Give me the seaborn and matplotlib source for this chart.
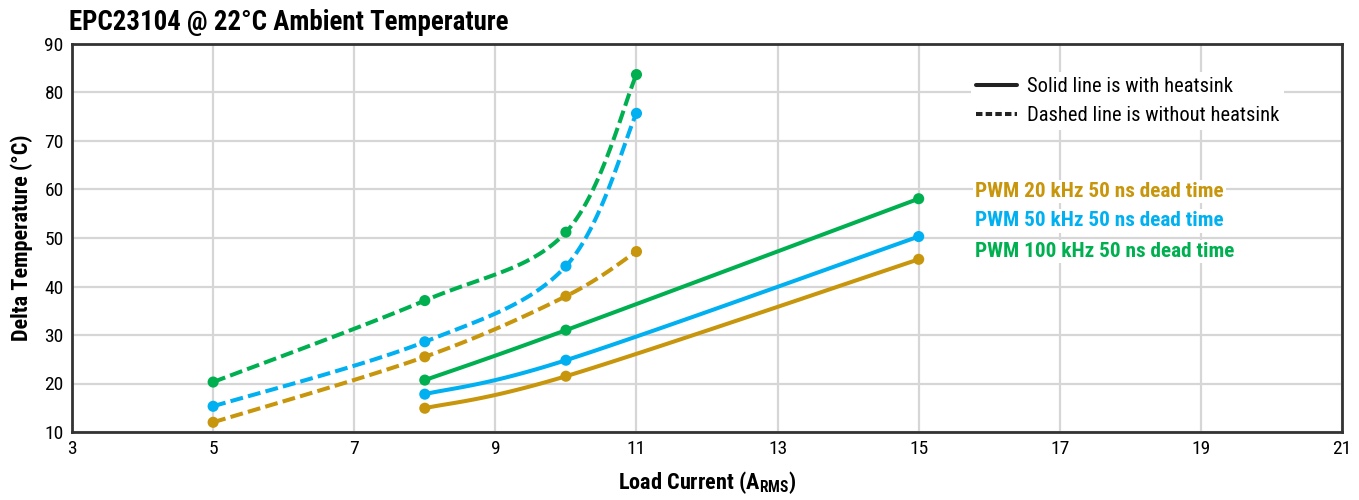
import numpy as np
import pandas as pd
import matplotlib
matplotlib.use("Agg")
import matplotlib.pyplot as plt
import matplotlib.font_manager as fm
import seaborn as sns
from matplotlib.lines import Line2D

# ---- data ----
x_dashed = [5, 8, 10, 11]
y_dashed_20k = [12.0, 25.5, 38.0, 47.2]
y_dashed_50k = [15.3, 28.6, 44.2, 75.7]
y_dashed_100k = [20.3, 37.1, 51.2, 83.7]

x_solid = [8, 10, 15]
y_solid_20k = [14.9, 21.5, 45.6]
y_solid_50k = [17.8, 24.8, 50.3]
y_solid_100k = [20.7, 31.0, 58.1]

series_names = ["PWM 20 kHz 50 ns dead time",
                "PWM 50 kHz 50 ns dead time",
                "PWM 100 kHz 50 ns dead time"]
colors = ["#C8960C", "#00B0F0", "#00B050"]
x_ticks = [3, 5, 7, 9, 11, 13, 15, 17, 19, 21]
y_ticks = [10, 20, 30, 40, 50, 60, 70, 80, 90]

sns.set_theme(style="white")

# pick a narrow font with a bold face if one is installed
ttf = fm.fontManager.ttflist


def wnum(w):
    if isinstance(w, (int, float)):
        return w
    return fm.weight_dict.get(str(w), 400)


narrow = {}
for f in ttf:
    if "Narrow" in f.name or "Condensed" in f.name or f.stretch in ("condensed", "semi-condensed"):
        key = (f.name, f.stretch if f.name == "DejaVu Sans" else "normal")
        narrow.setdefault(key, set()).add(wnum(f.weight))
with_bold = [k for k, ws in narrow.items() if max(ws) >= 700]
pref = ["Liberation Sans Narrow", "Roboto Condensed", "Open Sans Condensed"]
family, stretch, scale = "DejaVu Sans", "normal", 0.8
chosen = None
for p in pref:
    for k in with_bold:
        if k[0] == p:
            chosen = k; break
    if chosen:
        break
if chosen is None and with_bold:
    chosen = sorted(with_bold)[0]
if chosen is not None:
    family, stretch = chosen
    scale = 1.0 if family != "DejaVu Sans" else 0.9

plt.rcParams['font.family'] = [family, "DejaVu Sans"]
plt.rcParams['font.stretch'] = stretch
plt.rcParams['text.color'] = "black"
plt.rcParams['axes.labelcolor'] = "black"
plt.rcParams['mathtext.fontset'] = "custom"
plt.rcParams['mathtext.rm'] = family
plt.rcParams['mathtext.bf'] = family + ":bold"
FS = lambda v: v * scale

rows = []
for name, yd, ys in zip(series_names,
                        [y_dashed_20k, y_dashed_50k, y_dashed_100k],
                        [y_solid_20k, y_solid_50k, y_solid_100k]):
    for xv, yv in zip(x_dashed, yd):
        rows.append(dict(x=xv, y=yv, series=name, hs="without"))
    for xv, yv in zip(x_solid, ys):
        rows.append(dict(x=xv, y=yv, series=name, hs="with"))
df = pd.DataFrame(rows)

fig = plt.figure(figsize=(13.59, 5.0), dpi=100)
ax = fig.add_axes([0.053, 0.136, 0.9345, 0.776])
ax.set_xlim(3, 21)
ax.set_ylim(10, 90)


def smooth(ax, x, y, n=40):
    """Excel-style smoothed line (Catmull-Rom Bezier in screen space)."""
    P = ax.transData.transform(np.column_stack([x, y]))
    Pe = np.vstack([P[0], P, P[-1]])
    t = np.linspace(0, 1, n)[:, None]
    out = []
    for i in range(len(P) - 1):
        p0, p1, p2, p3 = Pe[i], Pe[i + 1], Pe[i + 2], Pe[i + 3]
        c1 = p1 + (p2 - p0) / 6.0
        c2 = p2 - (p3 - p1) / 6.0
        seg = ((1 - t) ** 3) * p1 + 3 * ((1 - t) ** 2) * t * c1 \
            + 3 * (1 - t) * t ** 2 * c2 + t ** 3 * p2
        out.append(seg if i == 0 else seg[1:])
    S = ax.transData.inverted().transform(np.vstack(out))
    return S[:, 0], S[:, 1]


for name, col in zip(series_names, colors):
    for hs, ls in [("without", (0, (3.2, 1.3))), ("with", "-")]:
        sub = df[(df.series == name) & (df.hs == hs)].sort_values("x")
        xs, ys = smooth(ax, sub.x.values, sub.y.values)
        ax.plot(xs, ys, color=col, lw=2.9, linestyle=ls, zorder=3,
                solid_capstyle="butt", dash_capstyle="butt")
sns.scatterplot(data=df, x="x", y="y", hue="series", palette=colors,
                hue_order=series_names, s=64, edgecolor="none",
                legend=False, ax=ax, zorder=4)

ax.set_xlim(3, 21)
ax.set_ylim(10, 90)
ax.set_xticks(x_ticks)
ax.set_yticks(y_ticks)
ax.grid(True, color="#d6d6d6", lw=1.6)
ax.set_axisbelow(True)
for s in ax.spines.values():
    s.set_color("#333333"); s.set_linewidth(2.0)
ax.tick_params(axis="both", length=0, labelsize=FS(14), pad=6, colors="black")
ax.set_xlabel("Load Current (A$_{\\mathbf{RMS}}$)", fontsize=FS(16),
              fontweight="bold", labelpad=8)
ax.set_ylabel("Delta Temperature (°C)", fontsize=FS(16), fontweight="bold",
              labelpad=8)
fig.text(0.051, 0.929, "EPC23104 @ 22°C Ambient Temperature", fontsize=FS(19.4),
         fontweight="bold", ha="left", va="bottom")

# legend for line styles
style_handles = [Line2D([], [], color="#222222", lw=2.9, ls="-"),
                 Line2D([], [], color="#222222", lw=2.9, ls=(0, (1.6, 0.8)))]
leg1 = ax.legend(style_handles,
                 ["Solid line is with heatsink", "Dashed line is without heatsink"],
                 loc="upper left", bbox_to_anchor=(0.708, 0.927), frameon=True,
                 framealpha=1, edgecolor="none", facecolor="white",
                 fontsize=FS(14.8), handlelength=2.0, handletextpad=0.45,
                 labelspacing=0.45, borderpad=0.25, borderaxespad=0)
ax.add_artist(leg1)

ypos = [0.619, 0.544, 0.466]
for name, col, yp in zip(series_names, colors, ypos):
    ax.text(0.711, yp, name, transform=ax.transAxes, color=col, fontsize=FS(15.3),
            fontweight="bold", ha="left", va="center", zorder=5,
            bbox=dict(facecolor="white", edgecolor="none", pad=1.5))

fig.savefig("out.png", dpi=100)
